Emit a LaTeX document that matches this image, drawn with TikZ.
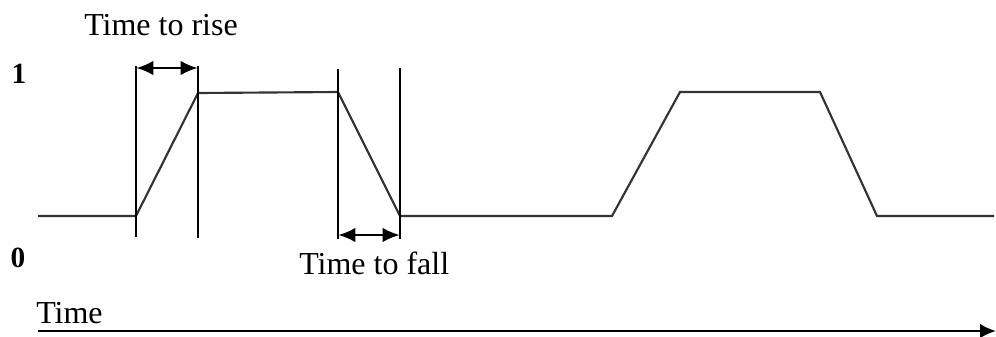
\documentclass[tikz,border=0pt]{standalone}
\usepackage{fontspec}
\setmainfont{Liberation Serif}
\usetikzlibrary{arrows.meta}
\begin{document}
\begin{tikzpicture}[x=0.75pt,y=-0.75pt,
  wave/.style={line width=1.6pt,draw=black!80,line join=miter},
  marker/.style={line width=1.7pt,draw=black},
  dim/.style={line width=2.2pt,draw=black,{Latex[length=13pt,width=11pt]}-{Latex[length=13pt,width=11pt]}},
  axis/.style={line width=2pt,draw=black,-{Latex[length=12pt,width=11pt]}},
  lbl/.style={font=\fontsize{24}{27}\selectfont,inner sep=0pt,anchor=base west},
  lvl/.style={font=\bfseries\fontsize{22}{25}\selectfont,inner sep=0pt}]
\useasboundingbox (0,0) rectangle (996,336);
% waveform
\coordinate (w0) at (38,216);
\coordinate (w1) at (136,216);
\coordinate (w2) at (198,93);
\coordinate (w3) at (338,92);
\coordinate (w4) at (400,216);
\coordinate (w5) at (612,216);
\coordinate (w6) at (680,92);
\coordinate (w7) at (820,92);
\coordinate (w8) at (877,216);
\coordinate (w9) at (994,216);
\draw[wave] (w0) -- (w1) -- (w2) -- (w3) -- (w4) -- (w5) -- (w6) -- (w7) -- (w8) -- (w9);
% marker lines
\coordinate (r1t) at (136,66); \coordinate (r1b) at (136,237);
\coordinate (r2t) at (198,66); \coordinate (r2b) at (198,238);
\coordinate (f1t) at (338,69); \coordinate (f1b) at (338,239);
\coordinate (f2t) at (400,68); \coordinate (f2b) at (400,239);
\draw[marker] (r1t) -- (r1b);
\draw[marker] (r2t) -- (r2b);
\draw[marker] (f1t) -- (f1b);
\draw[marker] (f2t) -- (f2b);
% dimension arrows
\coordinate (ra) at (136,68); \coordinate (rb) at (198,68);
\coordinate (fa) at (338,235); \coordinate (fb) at (400,235);
\draw[dim] (ra) -- (rb);
\draw[dim] (fa) -- (fb);
% time axis
\coordinate (t0) at (38,331);
\coordinate (t1) at (996,331);
\draw[axis] (t0) -- (t1);
% labels
\node[lbl] (rise) at (84,35) {Time to rise};
\node[lbl] (fall) at (299,274) {Time to fall};
\node[lbl] (time) at (36,323) {Time};
\node[lvl] (one) at (19,74) {1};
\node[lvl] (zero) at (18,258) {0};
\end{tikzpicture}
\end{document}
